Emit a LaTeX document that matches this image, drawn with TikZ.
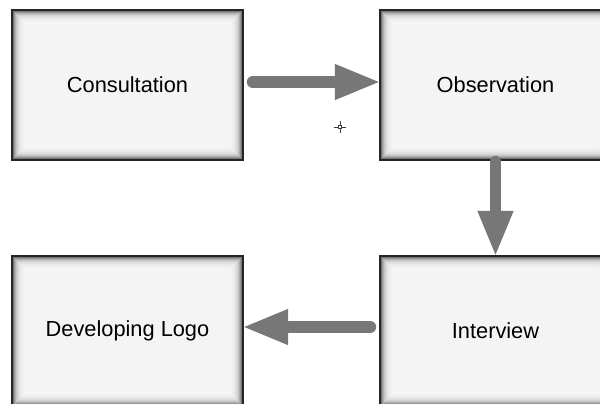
\documentclass[tikz,border=0pt]{standalone}
\usepackage{fontspec}
\setmainfont{Liberation Sans}
\usepackage{tikz}
\usetikzlibrary{arrows.meta,calc,positioning}
\usepackage{xcolor}

\definecolor{boxfill}{HTML}{F4F4F4}
\definecolor{arrowgray}{HTML}{777777}

\tikzset{
  procbox/.style={draw=black!85, line width=1.1pt, fill=boxfill,
    minimum width=5.775cm, minimum height=3.75cm, inner sep=0pt,
    font=\fontsize{15.5}{18}\selectfont,
    path picture={
      \foreach \i/\v in {1/70,2/52,3/38,4/28,5/20,6/14,7/10,8/7,9/5,10/3,11/2,12/1} {
        \draw[line width=0.8pt, draw=black!\v!boxfill]
          ([shift={(\i*0.025cm-0.0125cm,-\i*0.025cm+0.0125cm)}]path picture bounding box.north west)
          rectangle
          ([shift={(-\i*0.025cm+0.0125cm,\i*0.025cm-0.0125cm)}]path picture bounding box.south east);
      }
    }},
  flow/.style={draw=arrowgray, line width=8.5pt, line cap=round,
    -{Triangle[length=33pt, width=23pt, fill=arrowgray]}}
}

\begin{document}
\begin{tikzpicture}[x=0.025cm, y=-0.025cm]
\useasboundingbox (0,0) rectangle (600,403);
% the four steps
\node[procbox] (cons) at (127.5,85) {Consultation};
\node[procbox] (obs) at (495.5,85) {Observation};
\node[procbox] (int) at (495.5,331) {Interview};
\node[procbox] (dev) at (127.5,331) {Developing Logo};
% arrows
\draw[flow] ($(cons.east)+(9,-3)$) -- ($(obs.west)+(2,-3)$);
\draw[flow] ($(obs.south)+(0,1)$) -- ($(int.north)+(0,2)$);
\draw[flow] ($(int.west)+(-9,-4)$) -- ($(dev.east)+(-2,-4)$);
% cursor
\coordinate (cur) at (340,127);
\draw[black!75, line width=0.7pt] ($(cur)+(-6,0)$) -- ($(cur)+(-2,0)$)
  ($(cur)+(2,0)$) -- ($(cur)+(6,0)$)
  ($(cur)+(0,-6)$) -- ($(cur)+(0,-2)$)
  ($(cur)+(0,2)$) -- ($(cur)+(0,6)$);
\draw[black!75, line width=0.5pt] ($(cur)+(-1.5,-1.5)$) rectangle ($(cur)+(1.5,1.5)$);
\end{tikzpicture}
\end{document}
